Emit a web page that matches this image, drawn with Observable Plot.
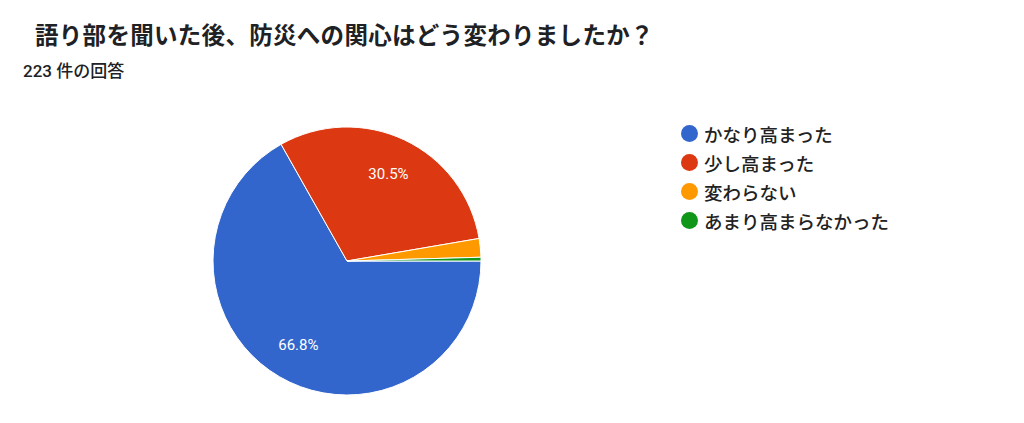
<!DOCTYPE html>
<html>
<head>
<meta charset="utf-8">
<script src="https://cdn.jsdelivr.net/npm/d3@7"></script>
<script src="https://cdn.jsdelivr.net/npm/@observablehq/plot@0.6"></script>
<style>
  html, body { margin: 0; padding: 0; background: #fff; }
  body { width: 1024px; height: 423px; overflow: hidden; font-family: Roboto, "Noto Sans CJK JP", sans-serif; }
  #wrap { position: relative; width: 1024px; height: 423px; }
  #header { position: relative; height: 90px; }
  #title { position: absolute; left: 35px; top: 17px; font-size: 23.5px; font-weight: 700; color: #202124; letter-spacing: 0.3px; white-space: nowrap; }
  #subtitle { position: absolute; left: 23px; top: 57px; font-size: 17px; font-weight: 500; color: #202124; white-space: nowrap; }
  #legend { position: absolute; left: 681px; top: 119px; }
  .item { display: flex; align-items: center; height: 29px; font-size: 18.5px; font-weight: 500; color: #222; white-space: nowrap; }
  .sw { width: 17px; height: 17px; border-radius: 50%; margin-right: 6px; flex: none; }
</style>
</head>
<body>
<div id="wrap">
  <div id="header">
    <div id="title"></div>
    <div id="subtitle"></div>
  </div>
  <div id="chart"></div>
  <div id="legend"></div>
</div>
<script>
const titleText = "語り部を聞いた後、防災への関心はどう変わりましたか？";
const subtitleText = "223 件の回答";
const categories = ["かなり高まった", "少し高まった", "変わらない", "あまり高まらなかった"];
const counts = [149, 68, 5, 1];
const colors = ["#3366cc", "#dc3912", "#ff9900", "#109618"];

document.getElementById("title").textContent = titleText;
document.getElementById("subtitle").textContent = subtitleText;

const data = categories.map((c, i) => ({category: c, count: counts[i]}));
const total = d3.sum(counts);

const pieMark = (index, scales) => {
  const cx = scales.x(0), cy = scales.y(0);
  const r = scales.x(1) - scales.x(0);
  const arcs = d3.pie().value(d => d.count).sort(null)
    .startAngle(Math.PI / 2).endAngle(Math.PI / 2 + 2 * Math.PI)(data);
  const arc = d3.arc().innerRadius(0).outerRadius(r);
  const labelArc = d3.arc().innerRadius(r * 0.72).outerRadius(r * 0.72);
  const g = d3.create("svg:g").attr("transform", `translate(${cx},${cy})`);
  g.selectAll("path").data(arcs).join("path")
    .attr("d", arc)
    .attr("fill", d => scales.color(d.data.category))
    .attr("stroke", "#fff")
    .attr("stroke-width", 1);
  g.selectAll("text").data(arcs.filter(d => d.data.count / total > 0.05)).join("text")
    .attr("transform", d => `translate(${labelArc.centroid(d)})`)
    .attr("text-anchor", "middle")
    .attr("dy", "0.35em")
    .attr("fill", "#fff")
    .attr("font-size", 15)
    .attr("font-family", "Roboto, 'Noto Sans CJK JP', sans-serif")
    .text(d => (d.data.count / total * 100).toFixed(1) + "%");
  return g.node();
};

const chart = Plot.plot({
  width: 1024,
  height: 333,
  marginLeft: 213,
  marginRight: 543,
  marginTop: 37,
  marginBottom: 28,
  x: {domain: [-1, 1], axis: null},
  y: {domain: [-1, 1], axis: null},
  color: {domain: categories, range: colors},
  marks: [
    Plot.dot(data, {x: () => 0, y: () => 0, fill: "category", r: 0}),
    pieMark
  ]
});
document.getElementById("chart").appendChild(chart);

const legend = d3.select("#legend");
const items = legend.selectAll(".item").data(categories).join("div").attr("class", "item");
items.append("span").attr("class", "sw").style("background", (d, i) => colors[i]);
items.append("span").text(d => d);
</script>
</body>
</html>
